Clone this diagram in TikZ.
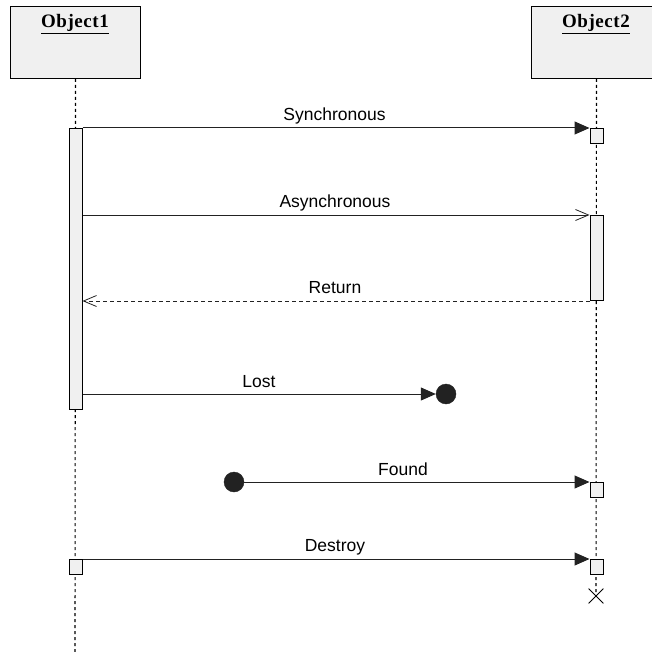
\documentclass[tikz,border=0pt]{standalone}
\usepackage{fontspec}
\setmainfont{Liberation Sans}
\newfontfamily\objfont[LetterSpace=3]{Liberation Serif}
\usetikzlibrary{arrows.meta,shapes.misc}
\definecolor{boxgray}{HTML}{F0F0F0}
\definecolor{dotgray}{HTML}{222222}
\definecolor{linegray}{HTML}{222222}
\begin{document}
\begin{tikzpicture}[x=1pt,y=-1pt,
  objbox/.style={draw=black, fill=boxgray, line width=1pt, minimum width=130pt, minimum height=72pt, inner sep=0pt, anchor=north west},
  objlabel/.style={font=\objfont\fontsize{19}{21}\selectfont\bfseries, anchor=base, inner sep=0pt},
  lifeline/.style={draw=black, line width=1.1pt, dash pattern=on 3pt off 3pt},
  actbar/.style={draw=black, fill=boxgray, line width=1pt, minimum width=13pt, inner sep=0pt, anchor=north west},
  msg/.style={draw=linegray, line width=1pt},
  synch/.style={msg, -{Triangle[length=15pt,width=13pt]}},
  asynch/.style={msg, -{Straight Barb[length=13pt,width=11pt,line width=0.8pt]}},
  retmsg/.style={asynch, dash pattern=on 4pt off 3pt},
  enddot/.style={circle, fill=dotgray, draw=dotgray, minimum size=20pt, inner sep=0pt},
  lbl/.style={font=\fontsize{17.5}{20}\selectfont, anchor=base, inner sep=0pt}]
\useasboundingbox (0,0) rectangle (652,652);
\clip (0,0) rectangle (652,652);
% objects
\node[objbox] (o1) at (10,6) {};
\node[objbox] (o2) at (531,6) {};
\node[objlabel] (o1t) at (75,28) {\underline{Object1}};
\node[objlabel] (o2t) at (596,28) {\underline{Object2}};
% lifeline ends
\coordinate (l1end) at (75,652);
\node[cross out, draw=black, line width=0.8pt, minimum size=14pt, inner sep=0pt] (kill) at (596,596) {};
\draw[lifeline] (o1.south) -- (l1end);
\draw[lifeline] (o2.south) -- (kill.center);
% activation bars and boxes
\node[actbar, minimum height=281pt] (a1) at (68.5,128) {};
\node[actbar, minimum height=15pt] (s1) at (589.5,128) {};
\node[actbar, minimum height=85pt] (a2) at (589.5,215) {};
\node[actbar, minimum height=15pt] (s2) at (589.5,482) {};
\node[actbar, minimum height=15pt] (s3) at (589.5,559) {};
\node[actbar, minimum height=15pt] (s4) at (68.5,559) {};
\node[enddot] (lost) at (446,394) {};
\node[enddot] (found) at (234,482) {};
% messages
\draw[synch] (a1.north east) -- (s1.north west);
\draw[asynch] (a1.east |- a2.north) -- (a2.north west);
\draw[retmsg] (a2.south west) -- (a1.east |- a2.south);
\draw[synch] (a1.east |- lost) -- (lost.west);
\draw[synch] (found.east) -- (s2.north west);
\draw[synch] (s4.north east) -- (s3.north west);
% labels
\node[lbl] (tsync) at (334.5,121) {Synchronous};
\node[lbl] (tasync) at (335,207.5) {Asynchronous};
\node[lbl] (tret) at (335,293) {Return};
\node[lbl] (tlost) at (259,387) {Lost};
\node[lbl] (tfound) at (403,475) {Found};
\node[lbl] (tdest) at (335,551) {Destroy};
\end{tikzpicture}
\end{document}
